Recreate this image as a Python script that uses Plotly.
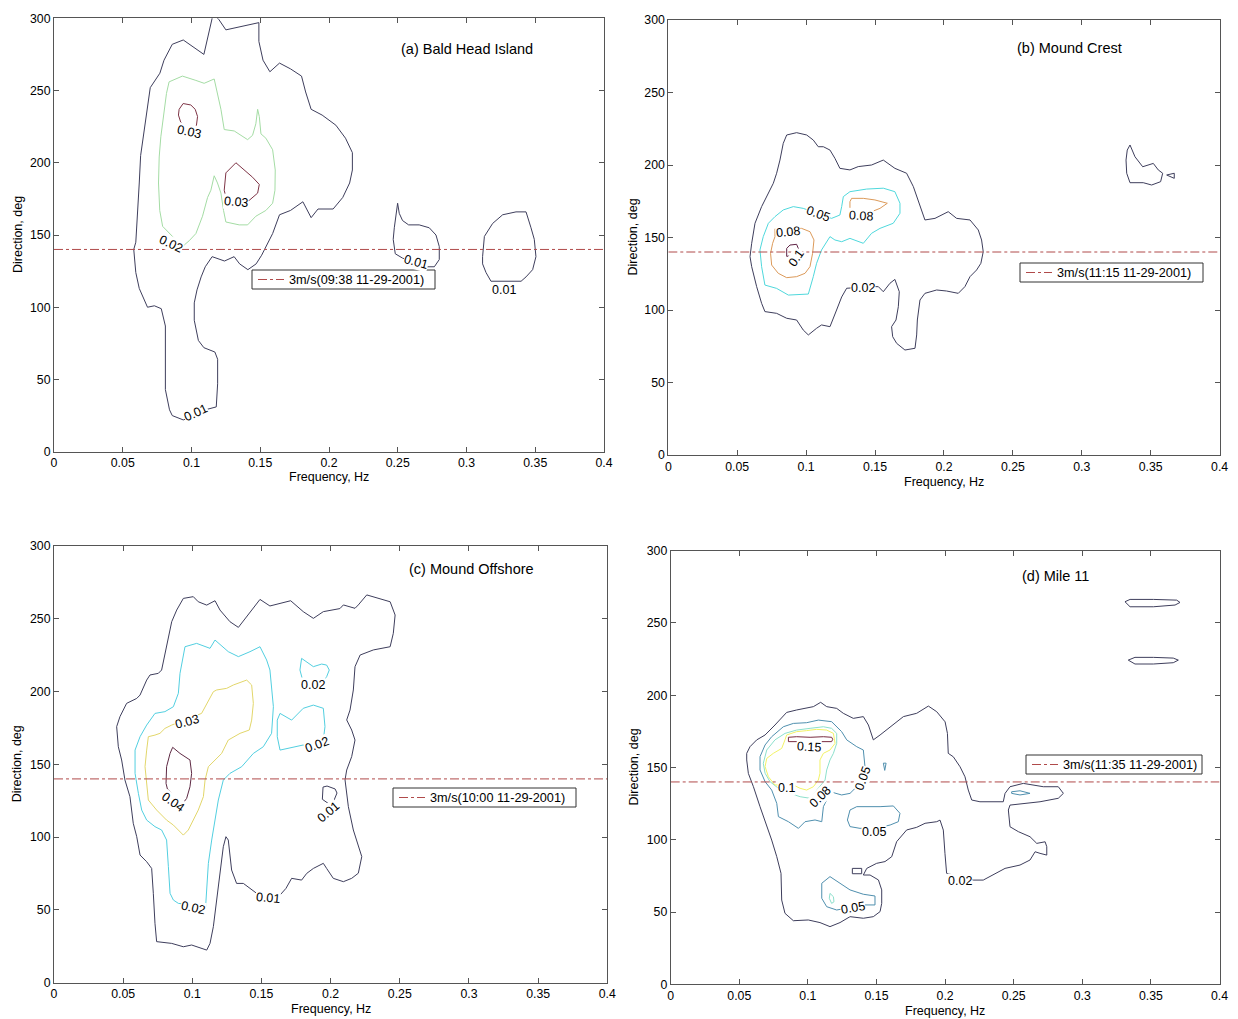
import plotly.graph_objects as go

# ---------------- data (frequency Hz, direction deg) ----------------
X_TICKS = [0, 0.05, 0.1, 0.15, 0.2, 0.25, 0.3, 0.35, 0.4]
X_TICK_TEXT = ["0", "0.05", "0.1", "0.15", "0.2", "0.25", "0.3", "0.35", "0.4"]
Y_TICKS = [0, 50, 100, 150, 200, 250, 300]
WIND_DIR = 140

TITLES = ["(a) Bald Head Island", "(b) Mound Crest", "(c) Mound Offshore", "(d) Mile 11"]
WIND_LABELS = ["3m/s(09:38 11-29-2001)", "3m/s(11:15 11-29-2001)",
               "3m/s(10:00 11-29-2001)", "3m/s(11:35 11-29-2001)"]
X_TITLE = "Frequency, Hz"
Y_TITLE = "Direction, deg"

# ---- panel (a) ----
a_001_main = [(0.115, 300), (0.109, 275), (0.094, 285), (0.086, 282), (0.080, 271), (0.077, 262),
              (0.070, 252), (0.068, 239), (0.065, 221), (0.063, 205), (0.062, 186), (0.061, 168),
              (0.0595, 145), (0.058, 140), (0.0595, 124), (0.062, 113), (0.068, 100), (0.073, 101),
              (0.078, 99), (0.081, 87), (0.081, 66), (0.081, 43), (0.084, 29), (0.086, 25),
              (0.094, 22), (0.1, 24), (0.11, 29), (0.118, 31), (0.119, 47), (0.119, 64),
              (0.117, 69), (0.109, 72), (0.105, 77), (0.102, 91), (0.102, 103), (0.104, 112),
              (0.107, 121), (0.110, 128), (0.115, 135), (0.118, 134), (0.124, 132), (0.131, 135),
              (0.135, 130), (0.141, 126), (0.147, 130), (0.151, 136), (0.155, 143), (0.159, 151),
              (0.164, 164), (0.172, 167), (0.181, 173), (0.187, 162), (0.192, 168), (0.203, 168),
              (0.21, 176), (0.215, 186), (0.217, 195), (0.217, 207), (0.212, 217), (0.205, 226),
              (0.195, 233), (0.187, 237), (0.183, 249), (0.180, 260), (0.172, 265), (0.164, 269),
              (0.157, 263), (0.152, 271), (0.149, 284), (0.149, 297), (0.125, 292), (0.12, 299),
              (0.117, 302), (0.115, 300)]
a_001_blob1 = [(0.2499, 172), (0.2511, 165), (0.2535, 160), (0.2579, 157), (0.2656, 157),
               (0.2729, 155), (0.2778, 150), (0.2802, 142), (0.2802, 133), (0.2766, 128),
               (0.27, 128), (0.2535, 134), (0.2482, 137), (0.2467, 147), (0.2475, 155), (0.2499, 172)]
a_001_blob2 = [(0.3117, 135), (0.313, 149), (0.319, 158), (0.3263, 164), (0.336, 166), (0.3433, 166),
               (0.3469, 155), (0.3493, 147), (0.3505, 135), (0.3481, 126), (0.3433, 121),
               (0.3397, 118), (0.3178, 118), (0.3142, 124), (0.3117, 130), (0.3117, 135)]
a_002_main = [(0.079, 156), (0.0769, 167), (0.076, 186), (0.0765, 204), (0.0777, 218), (0.0801, 237),
              (0.0818, 248), (0.0837, 256), (0.0934, 260), (0.1032, 257), (0.1092, 255), (0.1165, 258),
              (0.1189, 248), (0.1214, 237), (0.1238, 223), (0.1311, 222), (0.1408, 216), (0.1444, 219),
              (0.1468, 227), (0.1481, 237), (0.1493, 232), (0.1505, 220), (0.1541, 217), (0.159, 209),
              (0.1609, 195), (0.1607, 181), (0.159, 172), (0.1541, 167), (0.1468, 163), (0.1408, 157),
              (0.1347, 157), (0.125, 159), (0.1233, 167), (0.1214, 179), (0.1189, 186), (0.1165, 191),
              (0.1141, 181), (0.1117, 176), (0.108, 163), (0.1032, 151), (0.0983, 146), (0.0934, 142),
              (0.079, 156)]
a_003_top = [(0.0922, 228), (0.0905, 233), (0.091, 237), (0.0939, 241), (0.0995, 240), (0.1027, 237),
             (0.1044, 232), (0.1036, 226), (0.1, 221), (0.0922, 228)]
a_003_mid = [(0.1238, 181), (0.125, 193), (0.1323, 200), (0.1371, 196), (0.1444, 190), (0.1493, 185),
             (0.1481, 179), (0.142, 174), (0.135, 172), (0.126, 172), (0.1238, 181)]

# ---- panel (b) ----
b_002_main = [(0.1294, 115), (0.1258, 109), (0.1221, 100), (0.1185, 92), (0.1173, 88.5), (0.1112, 89.7),
              (0.1076, 87.4), (0.1016, 82.8), (0.0979, 86.2), (0.0931, 93.1), (0.0859, 94.3),
              (0.0786, 97.7), (0.0701, 98.9), (0.0677, 104.6), (0.0641, 116.1), (0.0605, 129.9),
              (0.0593, 136.8), (0.0605, 146), (0.0629, 159.8), (0.0677, 171.3), (0.0713, 178.2),
              (0.0762, 187.4), (0.0786, 194.3), (0.081, 203.4), (0.0834, 214.9), (0.0859, 220.7),
              (0.0931, 222.3), (0.1004, 220.7), (0.1052, 217.2), (0.1088, 212.6), (0.1125, 212.6),
              (0.1173, 210.3), (0.1209, 204.6), (0.1245, 197.7), (0.1318, 196.6), (0.1378, 198.9),
              (0.1475, 200), (0.156, 203.4), (0.1644, 197.7), (0.1729, 194.3), (0.1778, 185.1),
              (0.1814, 174.7), (0.1862, 162.1), (0.1935, 163.2), (0.2031, 167.8), (0.2092, 163.2),
              (0.2189, 162.1), (0.2249, 155.2), (0.2273, 148.3), (0.2285, 140.2), (0.2268, 132.2),
              (0.2237, 127.6), (0.2189, 123), (0.2152, 116.1), (0.2104, 111.5), (0.2019, 113.1),
              (0.1947, 113.8), (0.1862, 111.5), (0.1826, 106.9), (0.1807, 93.1), (0.1802, 82.8),
              (0.179, 73.6), (0.1717, 72.4), (0.1657, 77), (0.1628, 81.6), (0.162, 88.5),
              (0.1652, 93.1), (0.1669, 102.3), (0.1676, 112.6), (0.1644, 121.1), (0.1608, 118.4),
              (0.156, 112.6), (0.1524, 116.1), (0.1487, 116.1), (0.1294, 115)]
b_002_right = [(0.335, 213.8), (0.3386, 205.7), (0.3442, 198.8), (0.3519, 201.1), (0.3555, 196.6),
               (0.3587, 194.3), (0.3572, 188.5), (0.3507, 186.2), (0.3446, 187.8), (0.335, 187.8),
               (0.3326, 194.3), (0.3321, 203.4), (0.333, 210.3), (0.335, 213.8)]
b_002_tri = [(0.3616, 193.1), (0.3671, 194.3), (0.3671, 190.8), (0.3616, 193.1)]
b_005_main = [(0.0979, 170.1), (0.0907, 171.3), (0.0834, 169), (0.0774, 164.4), (0.0726, 159.8),
              (0.0689, 150.6), (0.0665, 141.4), (0.0677, 129.9), (0.0701, 117.2), (0.0786, 114.9),
              (0.0871, 110.3), (0.1016, 111), (0.1052, 123), (0.1076, 132.2), (0.1112, 141.4),
              (0.1161, 148.3), (0.1173, 150.6), (0.1209, 148.3), (0.1258, 147.1), (0.1318, 149.4),
              (0.1354, 148.3), (0.1415, 146), (0.1475, 152.9), (0.1536, 156.3), (0.1632, 159.8),
              (0.1681, 166.7), (0.1681, 173.6), (0.1644, 181.6), (0.156, 184), (0.1439, 183.4),
              (0.1318, 181.6), (0.127, 178.2), (0.1258, 171.3), (0.1245, 165.5), (0.1185, 163.2),
              (0.0979, 170.1)]
b_008_left = [(0.0967, 156.3), (0.1028, 154), (0.1057, 148.3), (0.1047, 139.1), (0.1028, 129.9),
              (0.0992, 125.3), (0.0931, 123), (0.0859, 122.3), (0.0798, 125.3), (0.075, 131),
              (0.0742, 139.1), (0.0757, 146), (0.0774, 150.6), (0.0774, 156), (0.0967, 156.3)]
b_008_right = [(0.1318, 169), (0.1318, 174.7), (0.133, 177), (0.1415, 177), (0.1499, 175.9),
               (0.1589, 173.6), (0.1536, 170.1), (0.1475, 167.8), (0.14, 166), (0.1318, 169)]
b_010 = [(0.0859, 137), (0.0859, 142.5), (0.0883, 144.8), (0.0931, 145.3), (0.0943, 142.5),
         (0.0935, 138), (0.0859, 137)]

# ---- panel (c) ----
c_001_main = [(0.1104, 22.4), (0.0995, 25.9), (0.0935, 24.7), (0.0851, 27), (0.0742, 28.2), (0.073, 40.8),
              (0.0718, 61.4), (0.0706, 78.5), (0.067, 83.1), (0.0622, 87.7), (0.0598, 100.3),
              (0.0573, 109.5), (0.0549, 127.8), (0.0513, 139.2), (0.0489, 153), (0.0465, 162.1),
              (0.0453, 175.9), (0.0477, 182.8), (0.0525, 191.9), (0.0598, 195.3), (0.0622, 197.6),
              (0.067, 207.9), (0.0694, 211.4), (0.0754, 212.5), (0.0778, 214.8), (0.0814, 230.8),
              (0.0851, 248), (0.0887, 256), (0.0935, 264), (0.1007, 265.2), (0.1043, 261.7),
              (0.1104, 259.4), (0.1164, 262.4), (0.12, 256), (0.1272, 248), (0.1333, 244.1),
              (0.1393, 251.4), (0.1489, 263.3), (0.1561, 258.8), (0.1711, 262.4), (0.1802, 254.9),
              (0.1875, 250.3), (0.1947, 254.9), (0.2067, 257), (0.2092, 259.5), (0.2176, 257.2),
              (0.22, 259.5), (0.2261, 266.4), (0.243, 261.7), (0.2466, 252.6), (0.2453, 240),
              (0.243, 230.8), (0.2309, 228.6), (0.2213, 225.1), (0.2176, 217.1), (0.2164, 201.1),
              (0.214, 187.3), (0.2116, 180.5), (0.2152, 173.6), (0.2176, 166.7), (0.2152, 155.3),
              (0.2116, 146.1), (0.2104, 139.3), (0.2128, 120.9), (0.2164, 104.9), (0.22, 93.4),
              (0.2225, 86.6), (0.22, 75.2), (0.2152, 71.7), (0.2092, 69.4), (0.2019, 71.7),
              (0.1971, 78.5), (0.1947, 82), (0.1875, 78.5), (0.1827, 75.1), (0.179, 70.5),
              (0.1718, 71.7), (0.1677, 64.8), (0.1634, 60.2), (0.1561, 61.4), (0.1465, 61.4),
              (0.1417, 64.8), (0.1369, 68.2), (0.132, 68.2), (0.1284, 77.4), (0.126, 98),
              (0.1243, 100.3), (0.1224, 93.4), (0.12, 75.1), (0.1176, 56.8), (0.1152, 38.5),
              (0.1128, 27), (0.1104, 22.4)]
c_001_small = [(0.1945, 134.4), (0.1974, 135.1), (0.2032, 133.1), (0.2046, 130.3), (0.2025, 125.5),
               (0.2, 122), (0.194, 126), (0.1945, 134.4)]
c_002_main = [(0.1096, 52.2), (0.1104, 63.7), (0.1116, 82), (0.114, 98), (0.1164, 111.7), (0.1188, 125.5),
              (0.1224, 139.2), (0.1272, 143.8), (0.1357, 148.4), (0.1441, 157.5), (0.1513, 162.1),
              (0.1573, 171.3), (0.1586, 189.6), (0.1561, 214.8), (0.1537, 221.7), (0.1489, 230.8),
              (0.1417, 227.4), (0.1333, 224), (0.126, 227.4), (0.12, 232), (0.1164, 235.4),
              (0.1128, 229.7), (0.1092, 230.8), (0.1031, 233.1), (0.0947, 230.8), (0.0923, 219.4),
              (0.0911, 212.5), (0.0899, 198.8), (0.0863, 189.6), (0.0802, 186.2), (0.073, 185),
              (0.067, 177), (0.0622, 169), (0.0586, 159.8), (0.0586, 143.8), (0.061, 130.1),
              (0.0634, 118.6), (0.067, 111.7), (0.073, 107.2), (0.0778, 104.9), (0.0814, 98),
              (0.0827, 79.7), (0.0839, 61.4), (0.0863, 56.8), (0.0899, 54.5), (0.1096, 52.2)]
c_002_blob1 = [(0.179, 222.8), (0.1827, 220.5), (0.1875, 217.1), (0.1935, 218.9), (0.1971, 218.2),
               (0.199, 214.8), (0.1971, 210.2), (0.1935, 206), (0.18, 207), (0.1778, 214.8), (0.179, 222.8)]
c_002_blob2 = [(0.1634, 185), (0.1718, 180.4), (0.1802, 188.5), (0.1875, 190.7), (0.1947, 188.5),
               (0.1959, 175.9), (0.1947, 166.7), (0.19, 164), (0.1802, 163.3), (0.1694, 161),
               (0.1634, 159.8), (0.1614, 169), (0.1614, 180.4), (0.1634, 185)]
c_003 = [(0.1067, 185), (0.1104, 191.9), (0.1152, 199.9), (0.1176, 201.1), (0.1248, 202.2), (0.1296, 204.5),
         (0.1393, 207.9), (0.1429, 204.5), (0.1441, 191.9), (0.1429, 180.4), (0.1412, 173.6),
         (0.1345, 171.3), (0.126, 166.7), (0.1212, 157.5), (0.1164, 153), (0.1116, 148.4),
         (0.1092, 139.2), (0.108, 127.8), (0.1043, 118.6), (0.1007, 111.7), (0.0971, 104.9),
         (0.0935, 101.4), (0.0899, 104.9), (0.0863, 108.3), (0.0814, 111.7), (0.0742, 118.6),
         (0.0682, 125.5), (0.067, 136.9), (0.0658, 148.4), (0.067, 159.8), (0.0682, 169),
         (0.073, 170.1), (0.0766, 171.3), (0.0802, 174.7), (0.0851, 177), (0.1067, 185)]
c_004 = [(0.081, 136.9), (0.0814, 148.4), (0.0839, 157.5), (0.0858, 161.7), (0.0911, 157.5), (0.0983, 153),
         (0.0995, 143.8), (0.0983, 134.6), (0.0959, 126.6), (0.093, 123), (0.082, 133), (0.081, 136.9)]

# ---- panel (d) ----
d_002_main = [(0.0554, 159.8), (0.0578, 164.4), (0.0627, 169.1), (0.0688, 172.5), (0.076, 179.4),
              (0.0845, 188.1), (0.0918, 189.8), (0.0991, 190.9), (0.104, 192.1), (0.1093, 195.1),
              (0.1137, 192.1), (0.121, 190.9), (0.1258, 187.5), (0.1331, 184), (0.1404, 185.2),
              (0.1441, 179.4), (0.1477, 169.1), (0.1526, 172.5), (0.1599, 178.2), (0.1696, 185.2),
              (0.1793, 187.5), (0.1878, 192.5), (0.1939, 188.6), (0.2, 181.6), (0.2017, 173.6),
              (0.2023, 159.8), (0.206, 157.4), (0.2109, 150.5), (0.2145, 143.6), (0.2169, 134.4),
              (0.2194, 127.5), (0.2254, 126.3), (0.2424, 126.3), (0.2437, 132.1), (0.2473, 136.7),
              (0.257, 139), (0.2716, 136.7), (0.2825, 136.7), (0.2862, 132.1), (0.2825, 128.7),
              (0.2692, 126.3), (0.2595, 125.2), (0.2473, 124), (0.2461, 120.6), (0.2473, 109),
              (0.2534, 105.6), (0.2619, 102.1), (0.2668, 97.5), (0.2729, 98.6), (0.2741, 95.2),
              (0.2741, 89.4), (0.2692, 90.6), (0.2656, 91.7), (0.2619, 86), (0.2546, 82.5),
              (0.2437, 80.2), (0.2351, 75.6), (0.2278, 72.1), (0.2205, 72.1), (0.2011, 76.8),
              (0.1999, 90.6), (0.1987, 106.7), (0.1963, 113.6), (0.1939, 112.5), (0.1854, 111.4),
              (0.1793, 108.6), (0.172, 106.8), (0.1647, 98.7), (0.1611, 88.3), (0.1562, 84.9),
              (0.1501, 83.7), (0.1429, 80.2), (0.1404, 75.6), (0.1453, 75.6), (0.1514, 72.2),
              (0.1538, 65.3), (0.1538, 56), (0.1526, 50.3), (0.1477, 46.8), (0.1404, 45.7),
              (0.1307, 46.8), (0.1234, 42.7), (0.1161, 39.9), (0.1088, 42.7), (0.1003, 44.5),
              (0.0894, 44), (0.0833, 49.1), (0.0809, 58.3), (0.0804, 76.8), (0.0773, 88.3),
              (0.0736, 99.8), (0.07, 109.1), (0.0651, 122.9), (0.0603, 136.7), (0.0566, 145.9),
              (0.0554, 155.2), (0.0554, 159.8)]
d_002_notch = [(0.1324, 80.2), (0.1392, 80.2), (0.1392, 76.5), (0.1324, 76.5), (0.1324, 80.2)]
d_002_ell1 = [(0.3311, 264.7), (0.3348, 266.3), (0.3518, 266.3), (0.3688, 265.8), (0.3712, 264.2),
              (0.3676, 262.4), (0.3518, 261.2), (0.3348, 261.2), (0.3311, 264.7)]
d_002_ell2 = [(0.3335, 224.3), (0.3384, 226.2), (0.3518, 226.2), (0.3663, 225.7), (0.37, 224.3),
              (0.3663, 222.5), (0.3518, 221.6), (0.3384, 221.6), (0.3335, 224.3)]
d_005_main = [(0.1416, 150.6), (0.1404, 162.1), (0.1356, 164.4), (0.1283, 169.1), (0.1246, 174.8),
              (0.121, 178.2), (0.1173, 181.7), (0.1076, 182.8), (0.0991, 181), (0.0894, 180.5),
              (0.0821, 178.2), (0.0736, 171.3), (0.0688, 165.6), (0.0651, 157.5), (0.0651, 148.3),
              (0.0688, 140.2), (0.0736, 134.4), (0.0773, 125.2), (0.0785, 116), (0.0858, 112.5),
              (0.0931, 107.9), (0.0979, 112.5), (0.1052, 113.7), (0.1101, 112.5), (0.1113, 122.9),
              (0.1149, 129.8), (0.1186, 132.6), (0.1246, 131), (0.1307, 132.1), (0.1344, 135.6),
              (0.1416, 150.6)]
d_005_mid = [(0.1307, 120.6), (0.1356, 122.9), (0.1526, 122.9), (0.1623, 123.4), (0.1671, 118.3),
             (0.1659, 112.5), (0.1599, 110.2), (0.155, 109.1), (0.138, 107.9), (0.1307, 109.1),
             (0.1288, 113.7), (0.1307, 120.6)]
d_005_low = [(0.1101, 69.9), (0.1161, 74.5), (0.1234, 69.9), (0.1307, 65.3), (0.1404, 62.3), (0.1489, 61.1),
             (0.1489, 54.9), (0.1404, 54.9), (0.121, 51.4), (0.1137, 53.7), (0.1101, 59.5), (0.1101, 69.9)]
d_005_tiny = [(0.155, 153), (0.157, 153), (0.156, 148), (0.155, 153)]
d_005_right = [(0.2485, 133.2), (0.2546, 133.9), (0.2619, 132.1), (0.2546, 131), (0.2485, 132.1), (0.2485, 133.2)]
d_008_main = [(0.1125, 141.3), (0.1137, 148.3), (0.1161, 155.2), (0.1186, 159.8), (0.121, 166.7),
              (0.121, 173.6), (0.1173, 177.1), (0.1113, 178.2), (0.1016, 177.1), (0.0918, 175.9),
              (0.0833, 173.6), (0.076, 169.1), (0.07, 162.1), (0.0675, 152.9), (0.0688, 146),
              (0.0724, 140.2), (0.0785, 135.6), (0.087, 132.1), (0.0943, 129.8), (0.1016, 128.7),
              (0.1125, 141.3)]
d_008_low = [(0.1161, 62.9), (0.1186, 60.6), (0.119, 57.1), (0.1173, 56), (0.1156, 59.5), (0.1161, 62.9)]
d_010 = [(0.0845, 172.5), (0.0918, 174.8), (0.0991, 175.5), (0.1064, 176.4), (0.1137, 175.9),
         (0.1186, 173.6), (0.1198, 166.7), (0.1161, 162.1), (0.1113, 159.8), (0.1088, 155.2),
         (0.1088, 146), (0.1076, 141.3), (0.104, 136.7), (0.0991, 134.4), (0.0943, 135.6),
         (0.0894, 137.9), (0.076, 137.9), (0.0712, 143.6), (0.0688, 150.6), (0.07, 156.3),
         (0.0748, 159.8), (0.0809, 163.2), (0.0833, 169.1), (0.0845, 172.5)]
d_015 = [(0.0858, 170.9), (0.0918, 171.3), (0.1016, 170.9), (0.1113, 171.3), (0.1173, 170.9),
         (0.1181, 169.5), (0.1173, 167.9), (0.1113, 167.9), (0.1016, 168), (0.0918, 167.9),
         (0.0858, 167.9), (0.0858, 170.9)]

# contour labels: (text, freq, dir, angle)
a_labels = [("0.03", 0.0985, 221, 12), ("0.03", 0.1323, 172.5, 5), ("0.02", 0.085, 144, 25),
            ("0.01", 0.2632, 131.5, 15), ("0.01", 0.3275, 112, 0), ("0.01", 0.103, 26.5, -25)]
b_labels = [("0.05", 0.1088, 166, 20), ("0.08", 0.1398, 164.8, 3), ("0.08", 0.0871, 154, -5),
            ("0.1", 0.0931, 135.6, -55), ("0.02", 0.141, 115, 0)]
c_labels = [("0.03", 0.0959, 179.3, -15), ("0.04", 0.0858, 124.3, 35), ("0.02", 0.1007, 51, 12),
            ("0.02", 0.1875, 204.5, 0), ("0.02", 0.1899, 163.3, -20), ("0.01", 0.1983, 117.5, -40),
            ("0.01", 0.155, 58, 5)]
d_labels = [("0.15", 0.1011, 164.4, 3), ("0.1", 0.0845, 135.6, 0), ("0.08", 0.1088, 129.8, -45),
            ("0.05", 0.1404, 142.5, -70), ("0.05", 0.1482, 105.6, 0), ("0.05", 0.1331, 52.6, -10),
            ("0.02", 0.2109, 71.7, 0)]

# ---------------- styling / layout (pixel geometry of the 1238x1019 page) ----------------
W, H = 1238, 1019
NAVY = "#3e3e5c"
COL = {
    "a01": NAVY, "a02": "#a4dca4", "a03": "#7e3446",
    "b02": NAVY, "b05": "#4fd8dc", "b08": "#dc9a5a", "b10": "#5e2244",
    "c01": NAVY, "c02": "#52cfe0", "c03": "#e2d66a", "c04": "#5e2a44",
    "d02": NAVY, "d05": "#4f8fae", "d08": "#8ce0cc", "d10": "#f2f266", "d15": "#7a2c40",
}
WIND_COLOR = "#b04a4a"
FONT = "Arial, 'Liberation Sans', sans-serif"


def px(x):
    return x / W


def py(y):
    return 1 - y / H


panels = [
    dict(contours=[(a_001_main, "a01"), (a_001_blob1, "a01"), (a_001_blob2, "a01"),
                   (a_002_main, "a02"), (a_003_top, "a03"), (a_003_mid, "a03")],
         labels=a_labels, title_pos=(0.3006, 278.5),
         box=(54, 604, 18.3, 451.7), xtitle_y=477, ytitle_x=18,
         legend_box=(252, 435, 270, 289)),
    dict(contours=[(b_002_main, "b02"), (b_002_right, "b02"), (b_002_tri, "b02"),
                   (b_005_main, "b05"), (b_008_left, "b08"), (b_008_right, "b08"), (b_010, "b10")],
         labels=b_labels, title_pos=(0.2914, 280.5),
         box=(668.3, 1219.6, 20, 455), xtitle_y=482, ytitle_x=632,
         legend_box=(1020, 1203, 263, 282)),
    dict(contours=[(c_001_main, "c01"), (c_001_small, "c01"), (c_002_main, "c02"),
                   (c_002_blob1, "c02"), (c_002_blob2, "c02"), (c_003, "c03"), (c_004, "c04")],
         labels=c_labels, title_pos=(0.302, 284),
         box=(54, 607.3, 546, 982.7), xtitle_y=1009, ytitle_x=17,
         legend_box=(393, 576, 788, 807)),
    dict(contours=[(d_002_main, "d02"), (d_002_notch, "d02"), (d_002_ell1, "d02"), (d_002_ell2, "d02"),
                   (d_005_main, "d05"), (d_005_mid, "d05"), (d_005_low, "d05"), (d_005_tiny, "d05"),
                   (d_005_right, "d05"), (d_008_main, "d08"), (d_008_low, "d08"),
                   (d_010, "d10"), (d_015, "d15")],
         labels=d_labels, title_pos=(0.2801, 282.7),
         box=(670.7, 1219.5, 550.7, 984.3), xtitle_y=1011, ytitle_x=633,
         legend_box=(1026, 1202, 755, 774)),
]

fig = go.Figure()
annotations = []
shapes = []
layout_updates = {}

for i, p in enumerate(panels):
    n = i + 1
    sx = "" if n == 1 else str(n)
    xa, ya = "x" + sx, "y" + sx
    x0, x1, y0, y1 = p["box"]

    for pts, key in p["contours"]:
        fig.add_trace(go.Scatter(
            x=[q[0] for q in pts], y=[q[1] for q in pts], mode="lines",
            line=dict(color=COL[key], width=1), xaxis=xa, yaxis=ya,
            showlegend=False, hoverinfo="skip"))

    fig.add_trace(go.Scatter(
        x=[X_TICKS[0], X_TICKS[-1]], y=[WIND_DIR, WIND_DIR], mode="lines",
        line=dict(color=WIND_COLOR, width=1, dash="dashdot"), xaxis=xa, yaxis=ya,
        name=WIND_LABELS[i], showlegend=False, hoverinfo="skip"))

    for txt, f, d, ang in p["labels"]:
        annotations.append(dict(
            x=f, y=d, xref=xa, yref=ya, text=txt, showarrow=False, textangle=ang,
            font=dict(family=FONT, size=12.5, color="black"), bgcolor="white", borderpad=0))

    annotations.append(dict(
        x=p["title_pos"][0], y=p["title_pos"][1], xref=xa, yref=ya, text=TITLES[i],
        showarrow=False, font=dict(family=FONT, size=14.5, color="black")))

    # axis titles
    annotations.append(dict(
        x=px((x0 + x1) / 2), y=py(p["xtitle_y"]), xref="paper", yref="paper", text=X_TITLE,
        showarrow=False, font=dict(family=FONT, size=12.5, color="black"),
        xanchor="center", yanchor="middle"))
    annotations.append(dict(
        x=px(p["ytitle_x"]), y=py((y0 + y1) / 2), xref="paper", yref="paper", text=Y_TITLE,
        showarrow=False, textangle=-90, font=dict(family=FONT, size=12.5, color="black"),
        xanchor="center", yanchor="middle"))

    # legend box
    lx0, lx1, ly0, ly1 = p["legend_box"]
    ymid = (ly0 + ly1) / 2
    shapes.append(dict(type="rect", xref="paper", yref="paper",
                       x0=px(lx0), x1=px(lx1), y0=py(ly1), y1=py(ly0),
                       line=dict(color="#333333", width=1), fillcolor="white", layer="above"))
    shapes.append(dict(type="line", xref="paper", yref="paper",
                       x0=px(lx0 + 6), x1=px(lx0 + 32), y0=py(ymid), y1=py(ymid),
                       line=dict(color=WIND_COLOR, width=1, dash="dashdot"), layer="above"))
    annotations.append(dict(
        x=px(lx0 + 35), y=py(ymid), xref="paper", yref="paper", text=WIND_LABELS[i],
        showarrow=False, xanchor="left", yanchor="middle",
        font=dict(family=FONT, size=12.7, color="black")))

    axis_common = dict(showline=True, linecolor="#555555", linewidth=1, mirror="ticks",
                       ticks="inside", ticklen=5, tickcolor="#555555", showgrid=False,
                       zeroline=False, automargin=False, fixedrange=True,
                       tickfont=dict(family=FONT, size=12.3, color="black"))
    layout_updates["xaxis" + sx] = dict(
        axis_common, domain=[px(x0), px(x1)], anchor=ya, range=[0, 0.4], tickvals=X_TICKS,
        ticktext=X_TICK_TEXT)
    layout_updates["yaxis" + sx] = dict(
        axis_common, domain=[py(y1), py(y0)], anchor=xa, range=[0, 300], tickvals=Y_TICKS)

fig.update_layout(
    width=W, height=H, margin=dict(l=0, r=0, t=0, b=0, autoexpand=False),
    paper_bgcolor="white", plot_bgcolor="white", annotations=annotations, shapes=shapes,
    showlegend=False, font=dict(family=FONT, size=12, color="black"), **layout_updates)

fig.write_html(
    "out.html",
    config={"displayModeBar": False, "staticPlot": True},
    post_script="document.body.style.margin='0';document.body.style.padding='0';"
                "document.body.style.overflow='hidden';",
)
